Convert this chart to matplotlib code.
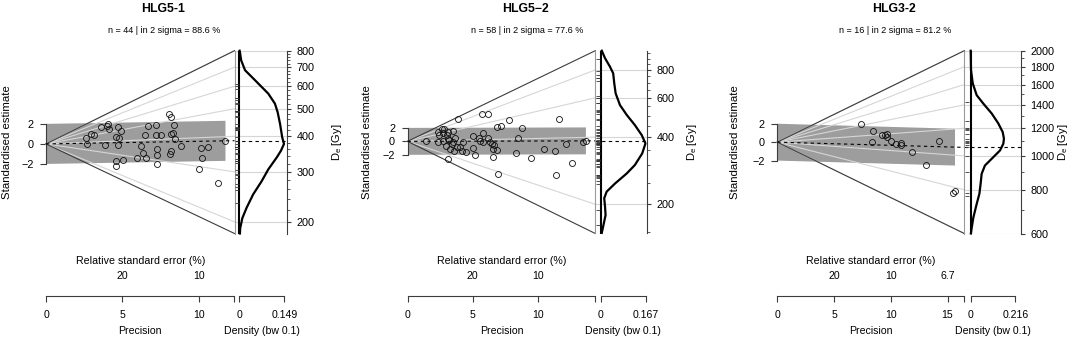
import numpy as np
import matplotlib.pyplot as plt
from matplotlib.ticker import FixedLocator, NullFormatter
from matplotlib.transforms import blended_transform_factory

plt.rcParams['font.family'] = ['Liberation Sans', 'DejaVu Sans']
plt.rcParams['mathtext.default'] = 'regular'
plt.rcParams['font.size'] = 7.5

# ---------------- data ----------------
titles = ['HLG5-1', 'HLG5\u22122', 'HLG3-2']
n_aliquots = [44, 58, 16]
in_2sigma = [88.6, 77.6, 81.2]

# precision (1/se) and standardised estimate of every aliquot
prec_1 = [8.07, 8.20, 3.59, 4.04, 4.09, 4.70, 4.90, 6.67, 7.19, 8.35,
          2.93, 3.17, 2.60, 2.71, 4.59, 4.79, 6.45, 7.19, 7.50, 8.15,
          8.28, 8.46, 3.85, 4.74, 6.21, 8.85, 10.12, 10.58, 11.74, 6.34,
          7.26, 7.26, 6.54, 5.95, 8.09, 8.18, 5.03, 4.59, 4.59, 7.26,
          10.21, 10.03, 11.26, 4.02]
z_1 = [2.99, 2.72, 1.69, 1.97, 1.53, 1.66, 1.29, 1.77, 1.87, 1.87,
       0.95, 0.85, 0.57, 0.00, 0.74, 0.61, 0.85, 0.85, 0.85, 0.95,
       1.12, 0.47, -0.10, -0.10, -0.24, -0.20, -0.45, -0.28, 0.27, -0.86,
       -0.51, -1.12, -1.37, -1.43, -0.96, -0.68, -1.63, -1.70, -2.18, -1.98,
       -1.43, -2.55, -3.92, 1.80]

prec_2 = [3.89, 5.69, 6.14, 7.78, 11.61, 6.83, 7.16, 8.75, 2.31, 2.62,
          2.82, 2.70, 3.08, 3.46, 2.41, 3.00, 1.42, 2.31, 2.75, 3.08,
          3.64, 3.51, 5.00, 5.81, 6.14, 5.56, 5.76, 6.32, 6.45, 6.65,
          8.49, 3.39, 2.95, 3.26, 3.59, 4.02, 4.28, 4.15, 4.48, 5.04,
          5.17, 6.53, 6.83, 6.53, 8.31, 9.44, 10.48, 11.30, 12.12, 13.47,
          13.68, 12.58, 3.08, 6.91, 11.36, 3.20, 3.80, 5.45]
z_2 = [3.31, 4.11, 4.00, 3.10, 3.31, 2.10, 2.30, 2.05, 1.44, 1.80,
       1.85, 1.20, 1.44, 1.55, 0.95, 0.95, 0.09, -0.06, 0.09, 0.35,
       0.45, -0.06, 0.80, 1.30, 0.55, 0.09, -0.15, -0.15, -0.40, -0.55,
       0.45, -0.40, -0.70, -1.20, -1.46, -0.80, -0.06, -1.46, -1.56, -0.96,
       -1.96, -1.20, -1.31, -2.31, -1.66, -2.46, -1.16, -1.46, -0.45, -0.06,
       0.09, -3.16, -2.66, -4.92, -4.96, 0.20, -0.90, 0.50]

prec_3 = [7.35, 8.46, 8.37, 9.20, 9.49, 9.69, 9.64, 9.99, 10.46, 10.87,
          10.87, 11.89, 14.27, 13.07, 15.66, 15.51]
z_3 = [1.92, 1.20, 0.00, 0.80, 0.73, 0.91, 0.54, 0.18, -0.18, -0.07,
       -0.36, -1.09, 0.11, -2.53, -5.25, -5.54]

# kernel density curves (De in Gy, density)
kde_de_1 = [800, 793, 741, 683, 630, 565, 521, 486, 442, 397, 376, 356, 337,
            306, 278, 250, 224, 206, 190, 182]
kde_1 = [0.001, 0.002, 0.006, 0.019, 0.052, 0.096, 0.118, 0.127, 0.135, 0.142,
         0.148, 0.138, 0.124, 0.096, 0.074, 0.046, 0.024, 0.010, 0.003, 0.002]
kde_de_2 = [976, 903, 828, 773, 697, 629, 557, 503, 453, 409, 375, 338, 300,
            275, 248, 228, 213, 195, 179, 161, 149]
kde_2 = [0.004, 0.016, 0.034, 0.046, 0.050, 0.055, 0.071, 0.096, 0.126, 0.151,
         0.165, 0.153, 0.126, 0.096, 0.053, 0.022, 0.013, 0.016, 0.018, 0.010, 0.004]
kde_de_3 = [2000, 1760, 1612, 1492, 1412, 1322, 1238, 1170, 1121, 1084, 1037,
            982, 939, 889, 832, 779, 729, 667, 624, 600]
kde_3 = [0.0, 0.0015, 0.010, 0.029, 0.061, 0.102, 0.134, 0.155, 0.161, 0.158,
         0.142, 0.102, 0.069, 0.053, 0.048, 0.042, 0.029, 0.013, 0.005, 0.001]
kde_max = [0.149, 0.167, 0.216]

de_ref = [376, 383, 1095]          # De at standardised estimate 0
de_central = [386, 385, 1058]      # dashed central value
de_lims = [(182, 800), (148, 976), (600, 2000)]
prec_max = [12.33, 14.4, 16.48]    # precision at the right edge of the radial part
de_ticks = [[200, 300, 400, 500, 600, 700, 800],
            [200, 400, 600, 800],
            [600, 800, 1000, 1200, 1400, 1600, 1800, 2000]]
de_minor_step = [20, 50, 100]
prec_ticks = [[0, 5, 10], [0, 5, 10], [0, 5, 10, 15]]
rse_labels = [['20', '10'], ['20', '10'], ['20', '10', '6.7']]

precs = [prec_1, prec_2, prec_3]
zs = [z_1, z_2, z_3]
kde_des = [kde_de_1, kde_de_2, kde_de_3]
kdes = [kde_1, kde_2, kde_3]

# ---------------- layout (pixels) ----------------
W, H = 1072, 338
TOP, BOT = 50.7, 233.5
x_origin = [46, 407.5, 777.3]
x_edge = [234.5, 595.3, 964.3]
x_right = [286.7, 646.7, 1020.7]
dens_zero_px = [239.3, 600.7, 970.7]
dens_max_px = [284.3, 646.0, 1015.3]
title_x = [163, 525.7, 894]
ylab_x = [7, 366.7, 735.3]
delab_x = [336.7, 691.7, 1063]
AX_Y = 296          # bottom axis line

band_col = '#9d9d9d'
grid_col = '#d6d6d6'
edge_col = '#3c3c3c'

fig = plt.figure(figsize=(W / 100, H / 100), dpi=100)


def box(x0, x1):
    return [x0 / W, 1 - BOT / H, (x1 - x0) / W, (BOT - TOP) / H]


def ftext(x, y, s, **kw):
    fig.text(x / W, 1 - y / H, s, ha='center', va='center', **kw)


out_pt = (AX_Y - BOT) * 0.72

for i in range(3):
    p = np.array(precs[i])
    z = np.array(zs[i])
    xe = prec_max[i]
    de0, dc = de_ref[i], de_central[i]
    lo, hi = de_lims[i]
    zhi = np.log(hi / de0) * xe
    zlo = np.log(lo / de0) * xe
    s = np.log(dc / de0)

    ax = fig.add_axes(box(x_origin[i], x_edge[i]))
    axd = fig.add_axes(box(x_edge[i], x_right[i]))

    # ---- radial part ----
    ax.set_xlim(0, xe)
    ax.set_ylim(zlo, zhi)
    pm = p.max()
    ax.fill([0, 0, pm, pm], [-2, 2, 2 + s * pm, -2 + s * pm],
            color=band_col, lw=0, zorder=1)
    for t in de_ticks[i]:
        ax.plot([0, xe], [0, np.log(t / de0) * xe], color=grid_col, lw=0.8,
                zorder=2, clip_on=False)
        axd.axhline(t, color=grid_col, lw=0.8, zorder=1)
    ax.plot([0, xe], [0, zhi], color=edge_col, lw=0.8, zorder=3, clip_on=False)
    ax.plot([0, xe], [0, zlo], color=edge_col, lw=0.8, zorder=3, clip_on=False)
    ax.plot([0, xe], [0, s * xe], color='k', lw=0.8, ls=(0, (3, 3)), zorder=3)
    ax.plot(p, z, 'o', mfc='none', mec='#111111', ms=4.3, mew=0.6, zorder=4,
            clip_on=False)

    for sp in ['top', 'right']:
        ax.spines[sp].set_visible(False)
    ax.spines['left'].set_bounds(-2, 2)
    ax.spines['left'].set_color(edge_col)
    ax.spines['left'].set_linewidth(0.8)
    ax.set_yticks([-2, 0, 2])
    ax.set_yticklabels(['\u22122', '0', '2'])
    ax.tick_params(axis='y', direction='out', length=4, width=0.8,
                   color=edge_col, pad=5, labelsize=7.8)
    ax.spines['bottom'].set_position(('outward', out_pt))
    ax.spines['bottom'].set_bounds(0, xe)
    ax.spines['bottom'].set_color(edge_col)
    ax.spines['bottom'].set_linewidth(0.8)
    ax.set_xticks(prec_ticks[i] + [xe])
    ax.set_xticklabels([str(t) for t in prec_ticks[i]] + [''])
    ax.tick_params(axis='x', direction='out', length=4, width=0.8,
                   color=edge_col, pad=6, labelsize=7.6)
    ax.patch.set_visible(False)

    # relative standard error labels above the precision axis
    tr = blended_transform_factory(ax.transData, fig.transFigure)
    for pos, lab in zip(prec_ticks[i][1:], rse_labels[i]):
        ax.text(pos, 1 - 276 / H, lab, transform=tr, ha='center', va='center',
                fontsize=7.6)

    # ---- density part ----
    scale = (dens_max_px[i] - dens_zero_px[i]) / kde_max[i]
    axd.set_xlim((x_edge[i] - dens_zero_px[i]) / scale,
                 (x_right[i] - dens_zero_px[i]) / scale)
    axd.set_yscale('log')
    axd.set_ylim(lo, hi)
    axd.axvline(0, color='k', lw=1.5, zorder=3)
    axd.plot(kdes[i], kde_des[i], color='k', lw=1.6, zorder=4, clip_on=False,
             solid_joinstyle='round')
    axd.axhline(dc, color='k', lw=0.8, ls=(0, (3, 3)), zorder=2)
    de_pts = de0 * np.exp(z / p)
    rug_x = ((dens_zero_px[i] + x_edge[i]) / 2 - x_edge[i]) / (x_right[i] - x_edge[i])
    axd.plot(np.full(len(de_pts), rug_x), de_pts, '_', color='#333333', ms=3,
             mew=0.6, transform=axd.get_yaxis_transform(), zorder=3)

    axd.spines['top'].set_visible(False)
    axd.spines['left'].set_color('#9a9a9a')
    axd.spines['left'].set_linewidth(0.8)
    axd.spines['right'].set_linewidth(0.8)
    axd.spines['right'].set_color(edge_col)
    axd.spines['bottom'].set_position(('outward', out_pt))
    axd.spines['bottom'].set_bounds(0, kde_max[i])
    axd.spines['bottom'].set_color(edge_col)
    axd.spines['bottom'].set_linewidth(0.8)
    axd.set_xticks([0, kde_max[i]])
    axd.set_xticklabels(['0', str(kde_max[i])])
    axd.tick_params(axis='x', direction='out', length=4, width=0.8,
                    color=edge_col, pad=6, labelsize=7.6)
    axd.yaxis.tick_right()
    axd.yaxis.set_major_locator(FixedLocator(de_ticks[i]))
    axd.set_yticklabels([str(t) for t in de_ticks[i]])
    step = de_minor_step[i]
    minors = [v for v in range(int(np.ceil(lo / step)) * step, hi + 1, step)
              if v not in de_ticks[i]]
    axd.yaxis.set_minor_locator(FixedLocator(minors))
    axd.yaxis.set_minor_formatter(NullFormatter())
    axd.tick_params(axis='y', which='major', direction='out', length=3,
                    width=0.8, color=edge_col, pad=4, labelsize=7.8)
    axd.tick_params(axis='y', which='minor', direction='out', length=1.8,
                    width=0.6, color=edge_col)
    axd.patch.set_visible(False)

    # ---- labels ----
    cx = (x_origin[i] + x_edge[i]) / 2
    ftext(title_x[i], 9, titles[i], fontsize=8.8, fontweight='bold')
    ftext(title_x[i] + 1, 30.7,
          'n = %d | in 2 sigma = %.1f %%' % (n_aliquots[i], in_2sigma[i]),
          fontsize=6.5)
    ftext(ylab_x[i], 142, 'Standardised estimate', rotation=90, fontsize=8.2)
    ftext(delab_x[i], 142, 'D$_e$ [Gy]', rotation=90, fontsize=8.0)
    ftext(cx, 261, 'Relative standard error (%)', fontsize=7.7)
    ftext(cx, 331, 'Precision', fontsize=7.6)
    ftext((dens_zero_px[i] + dens_max_px[i]) / 2, 331, 'Density (bw 0.1)',
          fontsize=7.6)

fig.savefig('out.png', dpi=100)
